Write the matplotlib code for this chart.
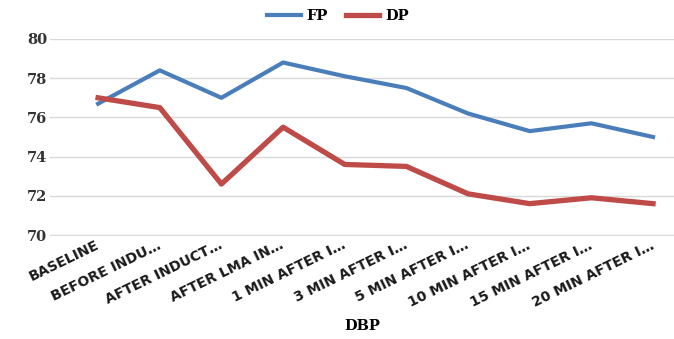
import matplotlib.pyplot as plt
import numpy as np

categories = ['BASELINE', 'BEFORE INDU…', 'AFTER INDUCT…', 'AFTER LMA IN…',
              '1 MIN AFTER I…', '3 MIN AFTER I…', '5 MIN AFTER I…',
              '10 MIN AFTER I…', '15 MIN AFTER I…', '20 MIN AFTER I…']
fp = [76.7, 78.4, 77.0, 78.8, 78.1, 77.5, 76.2, 75.3, 75.7, 75.0]
dp = [77.0, 76.5, 72.6, 75.5, 73.6, 73.5, 72.1, 71.6, 71.9, 71.6]

serif = 'DejaVu Serif'
sans = 'DejaVu Sans'

fig = plt.figure(figsize=(6.74, 3.39), dpi=100)
ax = fig.add_axes([50 / 674, 1 - 236 / 339, 1 - 50 / 674, 197 / 339])

x = np.arange(len(categories))
ax.plot(x, fp, color='#4A7EBB', linewidth=3.0, label='FP')
ax.plot(x, dp, color='#BE4B48', linewidth=3.8, label='DP')

# small margin below 70 so the bottom gridline isn't clipped
ax.set_ylim(69.95, 80)
ax.set_yticks(np.arange(70, 81, 2))
ax.set_xlim(-0.78, 9.34)
ax.set_xticks(x)
ax.set_xticklabels(categories, rotation=26, ha='right', va='center',
                   rotation_mode='anchor', fontsize=10, fontweight='bold',
                   family=sans, color='#1a1a1a')
for lab in ax.get_yticklabels():
    lab.set_family(serif)
    lab.set_fontweight('bold')
    lab.set_fontsize(10.5)
    lab.set_color('#333333')

ax.tick_params(axis='both', length=0)
ax.tick_params(axis='y', pad=2)
ax.tick_params(axis='x', pad=6)
ax.yaxis.grid(True, color='#D9D9D9', linewidth=1)
ax.set_axisbelow(True)
for s in ax.spines.values():
    s.set_visible(False)

fig.text(362 / 674, 1 - 326 / 339, 'DBP', ha='center', va='center',
         family=serif, fontweight='bold', fontsize=10.5)

leg = fig.legend(loc='center', bbox_to_anchor=(338 / 674, 1 - 16 / 339), ncol=2,
                 frameon=False, prop={'family': serif, 'weight': 'bold', 'size': 10.5},
                 handlelength=2.3, columnspacing=1.2, handletextpad=0.4)

fig.savefig('out.png', dpi=100)
